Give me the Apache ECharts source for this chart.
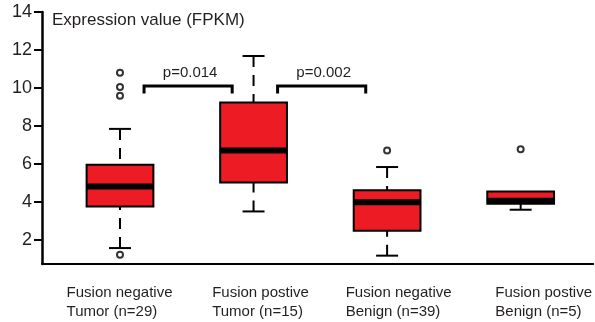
<!DOCTYPE html>
<html>
<head>
<meta charset="utf-8">
<script src="https://cdn.jsdelivr.net/npm/echarts@6/dist/echarts.min.js"></script>
<style>
  html, body { margin: 0; padding: 0; background: #ffffff; }
  #chart { width: 595px; height: 322px; }
</style>
</head>
<body>
<div id="chart"></div>
<script>
// Groups shown along the x axis
const categories = [
  'Fusion negative\nTumor (n=29)',
  'Fusion postive\nTumor (n=15)',
  'Fusion negative\nBenign (n=39)',
  'Fusion postive\nBenign (n=5)'
];

// Box statistics per group (FPKM)
const whiskerLow  = [1.56, 3.49, 1.16, 3.58];
const lowerQuart  = [3.75, 5.02, 2.47, 3.89];
const medians     = [4.80, 6.70, 3.98, 4.05];
const upperQuart  = [5.95, 9.23, 4.60, 4.54];
const whiskerHigh = [7.84, 11.68, 5.83, 4.54];

// Outlying samples per group
const outliers = [
  [10.80, 10.05, 9.58, 1.21],
  [],
  [6.70],
  [6.77]
];

// Pairwise comparisons: group indices, bracket height, p-value text
const compareFrom  = [0, 1];
const compareTo    = [1, 2];
const compareLevel = [10.1, 10.1];
const compareText  = ['p=0.014', 'p=0.002'];

// Y-axis tick values
const yTicks = [2, 4, 6, 8, 10, 12, 14];

// ---- style constants ----
const TEXT = '#231f20';
const RED = '#ed1c24';
const FONT = '"Liberation Sans", Arial, sans-serif';
const BOX_FRAC = 0.5;          // box width as a fraction of group spacing
const CAP_HALF = 11;           // whisker cap half-width, px
const LABEL_SHIFT = [-0.40, -0.31, -0.31, -0.19]; // left edge of each group label
const BRACKET_IN_L = 0.18, BRACKET_IN_R = 0.16, BRACKET_DROP = 0.4;

const boxData = categories.map((_, i) => [
  i + 1, whiskerLow[i], lowerQuart[i], medians[i], upperQuart[i], whiskerHigh[i]
]);
const outlierData = [];
outliers.forEach((vals, i) => vals.forEach(v => outlierData.push([i + 1, v])));
const bracketData = compareFrom.map((f, k) => [
  f + 1 + BRACKET_IN_L, compareTo[k] + 1 - BRACKET_IN_R, compareLevel[k], k
]);

function renderBox(params, api) {
  const x = api.value(0);
  const lo = api.value(1), q1 = api.value(2), med = api.value(3), q3 = api.value(4), hi = api.value(5);
  const cx = api.coord([x, med])[0];
  const half = api.size([BOX_FRAC, 0])[0] / 2;
  const yLo = api.coord([x, lo])[1];
  const yQ1 = api.coord([x, q1])[1];
  const yMed = api.coord([x, med])[1];
  const yQ3 = api.coord([x, q3])[1];
  const yHi = api.coord([x, hi])[1];
  const whisker = { stroke: '#000', lineWidth: 2, lineDash: [11, 8] };
  const cap = { stroke: '#000', lineWidth: 2 };
  const children = [];
  if (hi > q3) {
    children.push({ type: 'line', shape: { x1: cx, y1: yHi, x2: cx, y2: yQ3 }, style: whisker });
    children.push({ type: 'line', shape: { x1: cx - CAP_HALF, y1: yHi, x2: cx + CAP_HALF, y2: yHi }, style: cap });
  }
  if (lo < q1) {
    children.push({ type: 'line', shape: { x1: cx, y1: yLo, x2: cx, y2: yQ1 }, style: whisker });
    children.push({ type: 'line', shape: { x1: cx - CAP_HALF, y1: yLo, x2: cx + CAP_HALF, y2: yLo }, style: cap });
  }
  children.push({
    type: 'rect',
    shape: { x: cx - half, y: yQ3, width: half * 2, height: yQ1 - yQ3 },
    style: { fill: RED, stroke: '#000', lineWidth: 2 }
  });
  children.push({
    type: 'line',
    shape: { x1: cx - half, y1: yMed, x2: cx + half, y2: yMed },
    style: { stroke: '#000', lineWidth: 6 }
  });
  return { type: 'group', children };
}

function renderBracket(params, api) {
  const x0 = api.value(0), x1 = api.value(1), lvl = api.value(2), k = api.value(3);
  const pA = api.coord([x0, lvl - BRACKET_DROP]);
  const pB = api.coord([x0, lvl]);
  const pC = api.coord([x1, lvl]);
  const pD = api.coord([x1, lvl - BRACKET_DROP]);
  return {
    type: 'group',
    children: [
      {
        type: 'polyline',
        shape: { points: [pA, pB, pC, pD] },
        style: { stroke: '#000', lineWidth: 3, fill: null }
      },
      {
        type: 'text',
        x: (pB[0] + pC[0]) / 2 + 2,
        y: pB[1] - 6,
        style: {
          text: compareText[k], fill: TEXT, font: '15px ' + FONT,
          align: 'center', verticalAlign: 'bottom'
        }
      }
    ]
  };
}

function groupLabel(v) {
  const i = Math.round(v) - 1;
  return categories[i] || '';
}

const chart = echarts.init(document.getElementById('chart'), null, { renderer: 'canvas' });
chart.setOption({
  animation: false,
  backgroundColor: '#ffffff',
  grid: { left: 42, right: 0, top: 12, bottom: 58, containLabel: false },
  xAxis: {
    type: 'value',
    min: 0.416,
    max: 4.543,
    axisLine: { lineStyle: { color: '#000', width: 2 } },
    axisTick: { show: false },
    splitLine: { show: false },
    axisLabel: {
      show: true,
      customValues: categories.map((_, i) => i + 1 + LABEL_SHIFT[i]),
      formatter: groupLabel,
      align: 'left',
      margin: 19,
      fontSize: 15,
      lineHeight: 19,
      fontFamily: FONT,
      color: TEXT
    }
  },
  yAxis: {
    type: 'value',
    min: 0.72,
    max: 14,
    name: 'Expression value (FPKM)',
    nameLocation: 'end',
    nameGap: -8,
    nameTextStyle: {
      align: 'left', verticalAlign: 'middle', padding: [0, 0, 0, 10],
      fontSize: 17, fontFamily: FONT, color: TEXT
    },
    axisLine: { show: true, lineStyle: { color: '#000', width: 2.5 } },
    axisTick: { show: true, length: 8, customValues: yTicks, lineStyle: { color: '#000', width: 2 } },
    splitLine: { show: false },
    axisLabel: {
      customValues: yTicks,
      margin: 10,
      fontSize: 18,
      fontFamily: FONT,
      color: TEXT
    }
  },
  series: [
    {
      type: 'custom',
      name: 'box',
      renderItem: renderBox,
      encode: { x: 0, y: [1, 2, 3, 4, 5] },
      data: boxData,
      z: 2
    },
    {
      type: 'scatter',
      name: 'outliers',
      symbol: 'circle',
      symbolSize: 6,
      itemStyle: { color: '#fff', borderColor: '#000', borderWidth: 2 },
      data: outlierData,
      z: 3
    },
    {
      type: 'custom',
      name: 'comparisons',
      renderItem: renderBracket,
      encode: { x: [0, 1], y: 2 },
      data: bracketData,
      z: 4
    }
  ]
});
</script>
</body>
</html>
